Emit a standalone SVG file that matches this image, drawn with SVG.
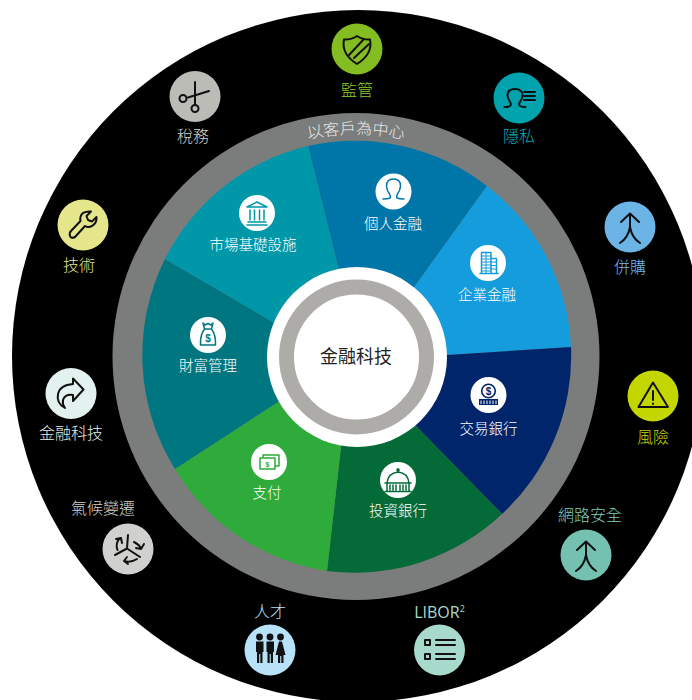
<svg xmlns="http://www.w3.org/2000/svg" xmlns:xlink="http://www.w3.org/1999/xlink" width="692" height="700" viewBox="0 0 692 700">
<style>
text{font-family:"Noto Sans CJK TC","Noto Sans",sans-serif;text-anchor:middle;font-weight:300}
.o{font-size:16px}
.i{font-size:14.500px;fill:#fff}
.k{fill:none;stroke:#111;stroke-width:2;stroke-linecap:round;stroke-linejoin:round}
.t{fill:none;stroke-width:1.500;stroke-linecap:round;stroke-linejoin:round}
.w{fill:#fff}
.s{font-weight:700;font-family:"Liberation Sans",sans-serif}
</style>
<defs><path id="arc" d="M133 357A223 223 0 0 1 579 357"/></defs>
<rect width="692" height="700" fill="#fff"/>
<circle cx="358" cy="356" r="346" fill="#000"/>
<circle cx="356" cy="356.500" r="243.500" fill="#7b7d7c"/>
<g id="wheel">
<path d="M357 357L338 267L308 146A215 215 0 0 1 487 186L415 286Z" fill="#0076a8"/>
<path d="M357 357L415 286L487 186A215 215 0 0 1 571 347L447 355Z" fill="#149cdc"/>
<path d="M357 357L447 355L571 347A215 215 0 0 1 502 514L417 427Z" fill="#00256b"/>
<path d="M357 357L417 427L502 514A215 215 0 0 1 327 571L341 447Z" fill="#046a38"/>
<path d="M357 357L341 447L327 571A215 215 0 0 1 175 469L278 402Z" fill="#2eab3a"/>
<path d="M357 357L278 402L175 469A215 215 0 0 1 165 259L273 322Z" fill="#007680"/>
<path d="M357 357L273 322L165 259A215 215 0 0 1 308 146L338 267Z" fill="#0097a9"/>
</g>
<g id="center">
<circle cx="357" cy="357" r="90" fill="#fff"/>
<circle cx="356.500" cy="357" r="70" fill="#fff" stroke="#adaca8" stroke-width="15"/>
<text x="356" y="363" font-size="18" fill="#222" style="font-weight:400">金融科技</text>
</g>
<text font-size="16" fill="#e8e8e8"><textPath xlink:href="#arc" href="#arc" startOffset="50%">以客戶為中心</textPath></text>

<g id="n-supervision"><circle cx="357" cy="49" r="25.500" fill="#84bd22"/>
<path class="k" d="M357 36Q351 40 344 39.500Q341 54 357 64Q373 54 370 39.500Q363 40 357 36Z"/>
<path class="k" stroke-width="1.800" d="M349 55L364 39M354 58L369 44"/>
<text class="o" x="357" y="96" fill="#8fcc25">監管</text></g>

<g id="n-tax"><circle cx="195" cy="96.500" r="25.500" fill="#bbbcb6"/>
<path class="k" d="M195 82V105M209 91L188 97.500"/>
<circle class="k" cx="183" cy="98.500" r="3.500"/><circle class="k" cx="195" cy="108.500" r="3.500"/>
<text class="o" x="193" y="142" fill="#d4d4d1">稅務</text></g>

<g id="n-privacy"><circle cx="519" cy="98" r="25.500" fill="#00a3ad"/>
<path class="k" d="M504.500 107q5 0 6-1.500q1-1.500-1-4.500q-2-3-2-5.500q0-6.500 7.500-6.500q7.500 0 7.500 6.500q0 2.500-2 5.500q-2 3-1 4.500q1 1.500 6 1.500"/>
<path class="k" d="M524 92H535M524 96H535M524 100H535" stroke-linecap="butt"/>
<text class="o" x="519" y="142" fill="#00b2bc">隱私</text></g>

<g id="n-ma"><circle cx="630" cy="227" r="25.500" fill="#6cb4e6"/>
<path class="k" d="M621 222L630 213.500L639 222M630 214V227M620 243Q628 238 630 227Q632 238 640 243"/>
<text class="o" x="630" y="273" fill="#72b8ea">併購</text></g>

<g id="n-risk"><circle cx="653" cy="396" r="25.500" fill="#c4d600"/>
<path class="k" d="M653 382.500L668 407H638.500Z"/><path class="k" d="M653 391V400M653 403.500V404"/>
<text class="o" x="653" y="443" fill="#c9dc00">風險</text></g>

<g id="n-cyber"><circle cx="586" cy="555" r="25.500" fill="#75c1b1"/>
<path class="k" d="M577 550L586 541.500L595 550M586 542V555M576 571Q584 566 586 555Q588 566 596 571"/>
<text class="o" x="590" y="521" fill="#7fcfbe">網路安全</text></g>

<g id="n-libor"><circle cx="439.500" cy="650" r="25.500" fill="#a8dacb"/>
<path class="k" d="M436 640H455M436 645H455M436 654H455M436 659H455" stroke-linecap="butt"/>
<rect class="k" x="425" y="640" width="5" height="5" stroke-linecap="butt"/><rect class="k" x="425" y="654" width="5" height="5"/>
<text class="o" x="439.500" y="618" fill="#a8dacb" style="font-family:'Open Sans',sans-serif;font-weight:400">LIBOR<tspan font-size="9" dy="-6">2</tspan></text></g>

<g id="n-talent"><circle cx="270" cy="650" r="25.500" fill="#b8e2f8"/>
<g fill="#111"><circle cx="259.500" cy="637" r="3.400"/><circle cx="270" cy="637" r="3.400"/><circle cx="280.500" cy="637" r="3.400"/>
<path d="M256 641.500H263.500V652H262.500V663H260.300V654H259.200V663H257V652H256Z"/><path d="M266.500 641.500H274V652H273V663H270.800V654H269.700V663H267.500V652H266.500Z"/>
<path d="M279 641.500H282L285.500 655H283.500V663H281.300V656H280.200V663H278V655H275.500Z"/></g>
<text class="o" x="270" y="617" fill="#b8e2f8">人才</text></g>

<g id="n-climate"><circle cx="128" cy="549" r="25.500" fill="#d0d0ce"/>
<path class="k" d="M127 548.500L128 535M127 548.500L115 555M127 548.500L140 557" stroke-width="1.800"/>
<path class="k" d="M117.500 550Q115 543 120 538M116 539L121 538L122 543M134 542Q140 545 141 549M144 544L141 549L136 548M137 559Q131 563 124 561M127 557L124 561L128 564" stroke-width="1.700"/>
<text class="o" x="103" y="514" fill="#d0d0ce">氣候變遷</text></g>

<g id="n-fintech"><circle cx="71" cy="393.500" r="25.500" fill="#e3f2ee"/>
<path class="k" d="M73 378.500L83.500 389.500L73 401V395Q65 394 63 400Q62 404 65 408Q56 403 58 394Q60 385 73 384Z" stroke-width="1.800"/>
<text class="o" x="71" y="439" fill="#e3f2ee">金融科技</text></g>

<g id="n-tech"><circle cx="83" cy="225" r="25.500" fill="#e5e68c"/>
<path class="k" d="M91 211.500L86.500 216L88 220L92 221.500L96.500 217Q97 223 92 226Q88 228 85 226L75 237Q71 239 70 236Q69 233 71 231L80.500 221Q79.500 216 83 213Q87 211 91 211.500Z"/>
<text class="o" x="79" y="271" fill="#e5e68c">技術</text></g>

<g id="s-retail"><circle class="w" cx="393.500" cy="191.500" r="18"/>
<path class="t" stroke="#0076a8" d="M383 199q5 0 7-1q1-1-.5-4q-3-4-3-8q0-7 7-7q7 0 7 7q0 4-3 8q-1.500 3-.5 4q2 1 7 1"/>
<text class="i" x="393" y="229">個人金融</text></g>

<g id="s-corporate"><circle class="w" cx="488" cy="263" r="18"/>
<g class="t" stroke="#149cdc" stroke-linecap="butt"><path d="M481.500 273V252.500H491V273M491 258.500H496.500V273M480 273.500H498"/>
<path stroke-width="1" d="M481.500 256H491M481.500 259H491M481.500 262H491M481.500 265H491M481.500 268H491M481.500 271H491M486 253V273M491 262H496.500M491 265.500H496.500M491 269H496.500"/></g>
<text class="i" x="487" y="300">企業金融</text></g>

<g id="s-transaction"><circle class="w" cx="488.500" cy="395" r="18"/>
<circle cx="488.500" cy="391" r="6.800" fill="none" stroke="#00256b" stroke-width="1.600"/>
<text class="s" x="488.500" y="394.500" font-size="10" fill="#00256b">$</text>
<path d="M479 399H498V405H479Z" fill="#00256b"/><path d="M481 400.500V404M484 400.500V404M487 400.500V404M490 400.500V404M493 400.500V404M496 400.500V404" stroke="#fff"/>
<text class="i" x="488.500" y="434">交易銀行</text></g>

<g id="s-investment"><circle class="w" cx="398" cy="480" r="18"/>
<g class="t" stroke="#046a38"><path d="M387 483Q388 473 398 472Q408 473 409 483ZM385 483H411M385 491.500H411M387 483V491M390 485V490M393 485V490M396 485V490M400 485V490M403 485V490M406 485V490M409 483V491M398 472V469"/></g>
<circle cx="398" cy="470" r="1.800" fill="#046a38"/>
<text class="i" x="398" y="516">投資銀行</text></g>

<g id="s-payments"><circle class="w" cx="269" cy="462" r="18"/>
<g class="t" stroke="#2eab3a" stroke-width="1.600"><path d="M263 457V455H279V466H276M260 458H275V469H260Z"/></g>
<text class="s" x="267.500" y="466.500" font-size="7" fill="#2eab3a">$</text>
<text class="i" x="267" y="498">支付</text></g>

<g id="s-wealth"><circle class="w" cx="208" cy="335" r="18"/>
<g class="t" stroke="#007680" stroke-width="1.600"><path d="M203 323L205 325L208 323.500L211 325L213 323L211.500 329H204.500ZM204.500 329Q200 335 200.500 345H215.500Q216 335 211.500 329"/></g>
<text class="s" x="208" y="342" font-size="10" fill="#007680">$</text>
<text class="i" x="208" y="371">財富管理</text></g>

<g id="s-infra"><circle class="w" cx="257" cy="213" r="18"/>
<g class="t" stroke="#0097a9"><path d="M247 207L257 202L267 207ZM250 210V220M254.500 210V220M259.500 210V220M264 210V220M248 222H266M247 225H267"/></g>
<text class="i" x="253" y="250">市場基礎設施</text></g>
</svg>
